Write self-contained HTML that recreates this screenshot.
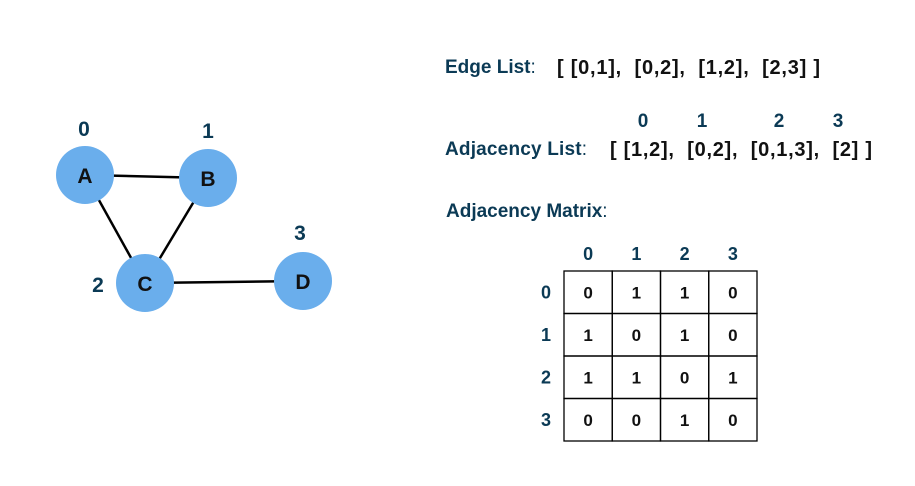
<!DOCTYPE html>
<html><head><meta charset="utf-8"><style>
body{margin:0;background:#fff}
svg{display:block;font-family:"Liberation Sans","DejaVu Sans",sans-serif;font-weight:bold}
.lab{fill:#0b3a55}
.blk{fill:#111}
</style></head><body>
<svg id="s" width="915" height="486" viewBox="0 0 915 486">
<g id="graph"></g>
<g>
<text x="445" y="73" font-size="19" class="lab">Edge List<tspan font-weight="normal">:</tspan></text>
<text x="557" y="74" font-size="20" class="blk" xml:space="preserve" textLength="263" lengthAdjust="spacing">[ [0,1],  [0,2],  [1,2],  [2,3] ]</text>
</g>
<g>
<text x="643" y="127" font-size="19" class="lab" text-anchor="middle">0</text>
<text x="702" y="127" font-size="19" class="lab" text-anchor="middle">1</text>
<text x="779" y="127" font-size="19" class="lab" text-anchor="middle">2</text>
<text x="838" y="127" font-size="19" class="lab" text-anchor="middle">3</text>
<text x="445" y="155" font-size="19" class="lab" textLength="142" lengthAdjust="spacing">Adjacency List<tspan font-weight="normal">:</tspan></text>
<text x="610" y="156" font-size="20" class="blk" xml:space="preserve" textLength="262" lengthAdjust="spacing">[ [1,2],  [0,2],  [0,1,3],  [2] ]</text>
</g>
<text x="446" y="217" font-size="19" class="lab">Adjacency Matrix<tspan font-weight="normal">:</tspan></text>
<g id="matrix"></g>
</svg>
<script>
const nodeNames=["A","B","C","D"];
const nodeX=[85,208,145,303];
const nodeY=[175,178,283,281];
const edges=[[0,1],[0,2],[1,2],[2,3]];
const matrix=[[0,1,1,0],[1,0,1,0],[1,1,0,1],[0,0,1,0]];
const NS="http://www.w3.org/2000/svg";
function mk(t,a,p){const e=document.createElementNS(NS,t);for(const k in a)e.setAttribute(k,a[k]);p.appendChild(e);return e;}
const g=document.getElementById('graph');
edges.forEach(([a,b])=>{
 const l=mk('line',{x1:nodeX[a],y1:nodeY[a],x2:nodeX[b],y2:nodeY[b],stroke:'#000','stroke-width':2.5},g);
 
 
});
const idxOff=[[-1,-47],[0,-48],[-47,1],[-3,-49]];
nodeNames.forEach((n,i)=>{
 const c=mk('circle',{cx:nodeX[i],cy:nodeY[i],r:29,fill:'#6aaeec'},g);
 
 
 const t=mk('text',{x:nodeX[i],y:nodeY[i]+8,'font-size':21,'text-anchor':'middle',fill:'#111'},g);
 t.textContent=n;
 
 
 const ti=mk('text',{x:nodeX[i]+idxOff[i][0],y:nodeY[i]+idxOff[i][1]+8,'font-size':21,'text-anchor':'middle',class:'lab'},g);
 ti.textContent=i;
 
 
});
const m=document.getElementById('matrix');
const x0=564,y0=271,cw=48.25,ch=42.5;
for(let i=0;i<4;i++){
 const h=mk('text',{x:x0+cw*(i+.5),y:260,'font-size':18,'text-anchor':'middle',class:'lab'},m);h.textContent=i;
 
 
 const r=mk('text',{x:546,y:y0+ch*(i+.5)+6,'font-size':18,'text-anchor':'middle',class:'lab'},m);r.textContent=i;
 
 
 for(let j=0;j<4;j++){
  const rc=mk('rect',{x:x0+cw*j,y:y0+ch*i,width:cw,height:ch,fill:'none',stroke:'#000','stroke-width':1.3},m);
  
  
  const t=mk('text',{x:x0+cw*(j+.5),y:y0+ch*(i+.5)+6,'font-size':17,'text-anchor':'middle',fill:'#111'},m);
  t.textContent=matrix[i][j];
  
  
 }
}
</script>
</body></html>
